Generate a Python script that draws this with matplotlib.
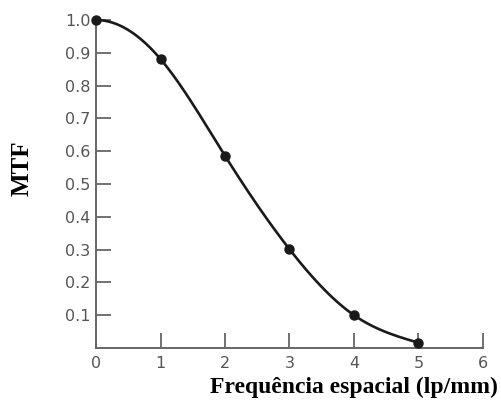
import numpy as np
import matplotlib
matplotlib.use("Agg")
import matplotlib.pyplot as plt

freq = [0, 1, 2, 3, 4, 5]
mtf = [1.0, 0.881, 0.586, 0.301, 0.10, 0.016]
x_ticks = [0, 1, 2, 3, 4, 5, 6]
y_ticks = [0.1, 0.2, 0.3, 0.4, 0.5, 0.6, 0.7, 0.8, 0.9, 1.0]
y_label = "MTF"
x_label = "Frequência espacial (lp/mm)"


def cubic_spline(x, y, xs, d0=0.0):
    # clamped start (slope d0), natural end
    x = np.asarray(x, float); y = np.asarray(y, float)
    n = len(x)
    h = np.diff(x)
    A = np.zeros((n, n)); b = np.zeros(n)
    A[0, 0] = 2 * h[0]; A[0, 1] = h[0]
    b[0] = 3 * ((y[1] - y[0]) / h[0] - d0)
    for i in range(1, n - 1):
        A[i, i - 1] = h[i - 1]; A[i, i] = 2 * (h[i - 1] + h[i]); A[i, i + 1] = h[i]
        b[i] = 3 * ((y[i + 1] - y[i]) / h[i] - (y[i] - y[i - 1]) / h[i - 1])
    A[-1, -1] = 1.0
    c = np.linalg.solve(A, b)
    out = np.empty_like(xs)
    for j, xv in enumerate(xs):
        i = min(max(np.searchsorted(x, xv) - 1, 0), n - 2)
        dx = xv - x[i]
        bi = (y[i + 1] - y[i]) / h[i] - h[i] * (2 * c[i] + c[i + 1]) / 3
        di = (c[i + 1] - c[i]) / (3 * h[i])
        out[j] = y[i] + bi * dx + c[i] * dx ** 2 + di * dx ** 3
    return out


fig = plt.figure(figsize=(5.01, 4.01), dpi=100)
ax = fig.add_axes([96 / 501, 53 / 401, (483 - 96) / 501, (348 - 20) / 401])

xs = np.linspace(freq[0], freq[-1], 300)
ax.plot(xs, cubic_spline(freq, mtf, xs), color="#1a1a1a", lw=1.9, clip_on=False, zorder=3)
ax.plot(freq, mtf, "o", color="#1a1a1a", ms=6.5, clip_on=False, zorder=4)

ax.set_xlim(0, 6)
ax.set_ylim(0, 1.0)
for s in ["top", "right"]:
    ax.spines[s].set_visible(False)
for s in ["left", "bottom"]:
    ax.spines[s].set_color("#666666")
    ax.spines[s].set_linewidth(1.4)

ax.set_xticks(x_ticks)
ax.set_xticklabels([str(t) for t in x_ticks])
ax.set_yticks(y_ticks)
ax.set_yticklabels([f"{t:.1f}" for t in y_ticks])
ax.tick_params(direction="in", length=11, width=1.3, color="#666666",
               labelcolor="#555555", labelsize=11.5)
ax.tick_params(axis="x", pad=6)
ax.tick_params(axis="y", pad=4)
for lbl in ax.get_xticklabels() + ax.get_yticklabels():
    lbl.set_fontfamily("DejaVu Sans")

fig.text(22 / 501, 1 - 168 / 401, y_label, rotation=90, ha="center", va="center",
         family="Liberation Serif", fontweight="bold", fontsize=18)
fig.text(498 / 501, 1 - 387 / 401, x_label, ha="right", va="center",
         family="Liberation Serif", fontweight="bold", fontsize=17)

fig.savefig("out.png", dpi=100)
